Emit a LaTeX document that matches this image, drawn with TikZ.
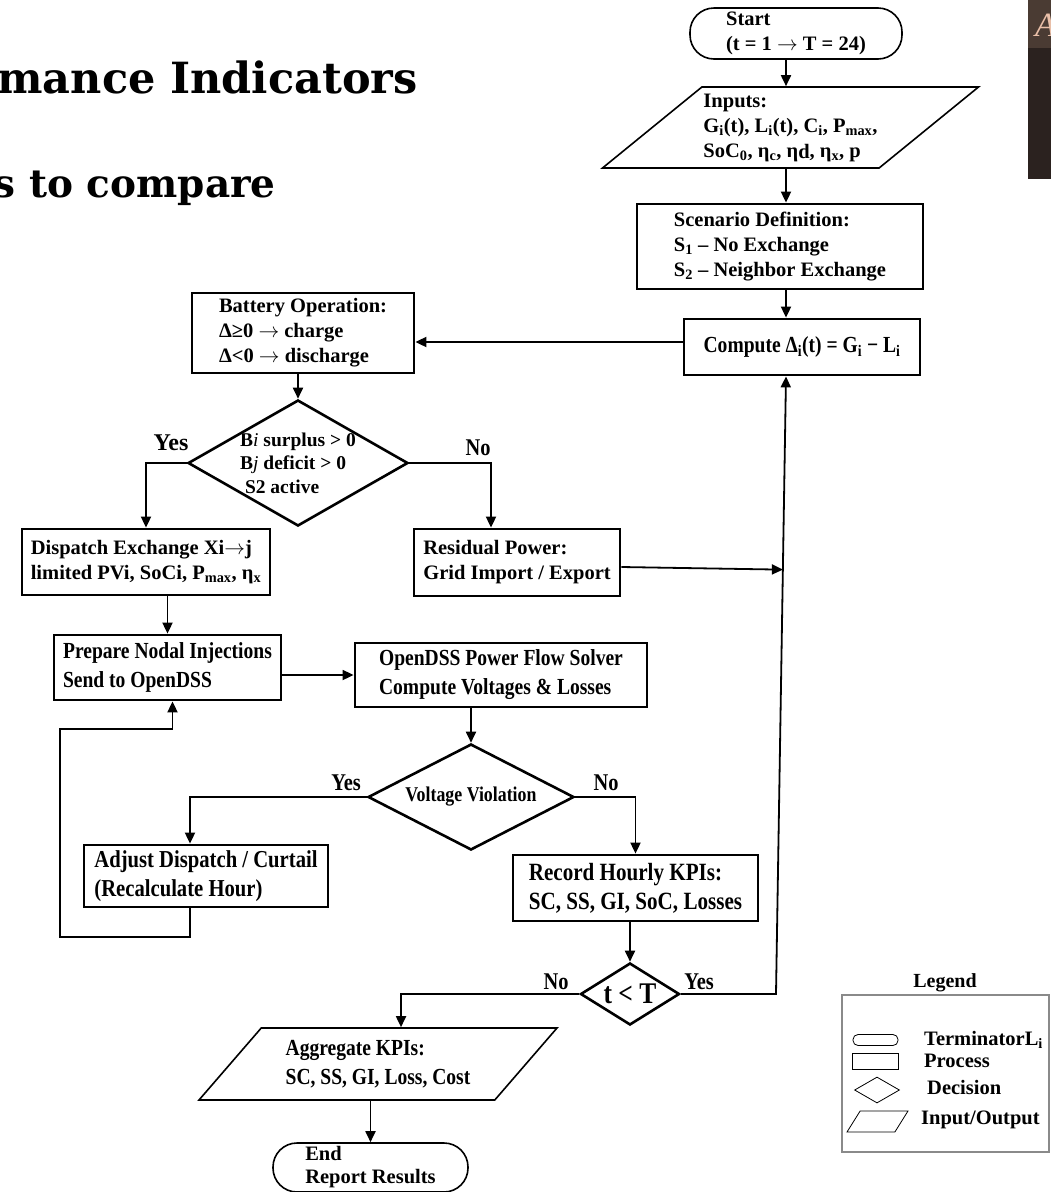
\documentclass[tikz,border=0pt]{standalone}
\usepackage{fontspec}
\setmainfont{Liberation Serif}
\newfontfamily\narrowfont[FakeStretch=0.85]{Liberation Serif}
\newfontfamily\headfont{DejaVu Serif}
\usetikzlibrary{shapes.geometric, arrows.meta, calc}

\definecolor{slidetop}{HTML}{4A3B33}
\definecolor{slidebody}{HTML}{2B221F}
\definecolor{slideglyph}{HTML}{E9BFA8}
\definecolor{legendgray}{HTML}{8A8A8A}

\begin{document}
\begin{tikzpicture}[
        x=1pt, y=-1pt,
        font=\bfseries\fontsize{20.5}{25}\selectfont,
        box/.style={draw, line width=2.8pt, inner sep=0pt, align=left},
        term/.style={draw, line width=1.6pt, rounded corners=24pt, inner sep=0pt, align=left},
        io/.style={draw, line width=1.6pt, trapezium, trapezium stretches body, inner sep=0pt, align=left},
        dec/.style={draw, line width=2.6pt, diamond, inner sep=0pt, align=left},
        narrow/.style={font=\narrowfont\bfseries\fontsize{23}{29}\selectfont},
        lab/.style={font=\narrowfont\bfseries\fontsize{24}{24}\selectfont},
        leg/.style={font=\bfseries\fontsize{20.5}{20.5}\selectfont, anchor=west, inner sep=0pt},
        key/.style={draw, line width=0.8pt, inner sep=0pt},
        arr/.style={line width=1.8pt, -{Triangle[length=11pt, width=10pt]}}
    ]

    \useasboundingbox (0,0) rectangle (1051,1192);

    % slide behind the chart
    \node[font=\headfont\bfseries\fontsize{43}{43}\selectfont, anchor=base east, inner sep=0pt] (head1) at (418,93) {mance Indicators};
    \node[font=\headfont\bfseries\fontsize{39}{39}\selectfont, anchor=base east, inner sep=0pt] (head2) at (276,197) {s to compare};
    \fill[slidetop] (1028,0) rectangle (1051,48);
    \fill[slidebody] (1028,48) rectangle (1051,179);
    \begin{scope}
        \clip (1028,0) rectangle (1051,48);
        \node[slideglyph, font=\mdseries\itshape\fontsize{34}{34}\selectfont, anchor=base west, inner sep=0pt] (glyph) at (1035,36) {A};
    \end{scope}

    % nodes
    \node[term, minimum width=212pt, minimum height=51pt] (start) at (796,33.5) {Start\\(t = 1 $\rightarrow$ T = 24)};
    \node[io, minimum width=376pt, minimum height=81pt, trapezium left angle=34.3, trapezium right angle=145.7] (inputs) at (790.5,127.5)
        {Inputs:\\G\textsubscript{i}(t), L\textsubscript{i}(t), C\textsubscript{i}, P\textsubscript{max},\\SoC\textsubscript{0}, η\textsubscript{c}, η\raisebox{-1.5pt}{d}, η\textsubscript{x}, p};
    \node[box, minimum width=286pt, minimum height=85pt] (scen) at (780,246.5) {Scenario Definition:\\S\textsubscript{1} – No Exchange\\S\textsubscript{2} – Neighbor Exchange};
    \node[box, narrow, minimum width=236pt, minimum height=56pt] (comp) at (802,347) {Compute Δ\textsubscript{i}(t) = G\textsubscript{i} − L\textsubscript{i}};

    \node[box, minimum width=222pt, minimum height=80pt] (bat) at (303,333) {Battery Operation:\\Δ≥0 $\rightarrow$ charge\\Δ<0 $\rightarrow$ discharge};
    \node[dec, aspect=1.75, inner sep=-3pt, minimum width=220pt, minimum height=126pt, font=\bfseries\fontsize{19.5}{23.5}\selectfont] (share) at (298,463)
        {B\textmd{\textit{i}} surplus > 0\\B\textmd{\textit{j}} deficit > 0\\\ S2 active};
    \node[box, minimum width=248pt, minimum height=66pt] (disp) at (146,562) {Dispatch Exchange Xi$\rightarrow$j\\limited PVi, SoCi, P\textsubscript{max}, η\textsubscript{x}};
    \node[box, minimum width=206pt, minimum height=67pt] (resid) at (517,562.5) {Residual Power:\\Grid Import / Export};

    \node[box, narrow, minimum width=227pt, minimum height=65pt] (prep) at (167.5,667.5) {Prepare Nodal Injections\\Send to OpenDSS};
    \node[box, narrow, minimum width=292pt, minimum height=64pt] (solver) at (501,675) {OpenDSS Power Flow Solver\\Compute Voltages \& Losses};
    \node[dec, aspect=1.94, minimum width=206pt, minimum height=106pt, font=\narrowfont\bfseries\fontsize{21}{21}\selectfont] (volt) at (471,797) {Voltage Violation};
    \node[box, narrow, minimum width=244pt, minimum height=62pt, font=\narrowfont\bfseries\fontsize{24.3}{29}\selectfont] (adjust) at (206,876) {Adjust Dispatch / Curtail\\(Recalculate Hour)};
    \node[box, narrow, minimum width=245pt, minimum height=66pt, font=\narrowfont\bfseries\fontsize{24.8}{29}\selectfont] (record) at (635.5,888) {Record Hourly KPIs:\\SC, SS, GI, SoC, Losses};

    \node[dec, aspect=1.6, minimum width=99pt, minimum height=62pt, font=\narrowfont\bfseries\fontsize{30}{30}\selectfont] (hour) at (630,994) {t < T};
    \node[io, narrow, minimum width=358pt, minimum height=72pt, trapezium left angle=37.5, trapezium right angle=142.5] (agg) at (378,1064) {Aggregate KPIs:\\SC, SS, GI, Loss, Cost};
    \node[term, minimum width=195pt, minimum height=49pt, font=\bfseries\fontsize{20.5}{23}\selectfont] (stop) at (370.5,1167.5) {End\\Report Results};

    % coordinates
    \coordinate (col)    at (786,0);
    \coordinate (nodown) at (491,0);
    \coordinate (back)   at (776,994);
    \coordinate (fbbot)  at (60,937);
    \coordinate (fbtop)  at (60,729);
    \coordinate (compin) at (comp.south -| col);
    \coordinate (resout) at ([yshift=-4.5pt]resid.east);

    % edges
    \draw[arr] (start.south -| col) -- (inputs.north -| col);
    \draw[arr] (inputs.south -| col) -- (scen.north -| col);
    \draw[arr] (scen.south -| col) -- (comp.north -| col);
    \draw[arr] ([yshift=5pt]comp.west) -- ([yshift=5pt]comp.west -| bat.east);
    \draw[arr] (bat.south -| share.north) -- (share.north);
    \draw[arr] (share.west) -| (disp.north);
    \draw[arr] (share.east) -| (resid.north -| nodown);
    \draw[arr] (disp.south -| prep.north) -- (prep.north);
    \draw[arr] (resout) -- ($(back)!(resout)!(compin)$);
    \draw[arr] (prep.east |- solver.west) -- (solver.west);
    \draw[arr] (solver.south -| volt.north) -- (volt.north);
    \draw[arr] (volt.west) -| ([xshift=-16pt]adjust.north);
    \draw[arr] (volt.east) -| (record.north);
    \draw[arr] ([xshift=-16pt]adjust.south) |- (fbbot) -- (fbtop) -| ([xshift=5pt]prep.south);
    \draw[arr] (record.south -| hour.north) -- (hour.north);
    \draw[arr] (hour.west) -| ([xshift=23pt]agg.north);
    \draw[arr] (hour.east) -- (back) -- (compin);
    \draw[arr] (agg.south -| stop.north) -- (stop.north);

    % labels
    \node[lab, font=\bfseries\fontsize{24}{24}\selectfont] (yes1) at (171,443) {Yes};
    \node[lab] (no1)  at (478,448) {No};
    \node[lab] (yes2) at (346,783) {Yes};
    \node[lab] (no2)  at (606,783) {No};
    \node[lab] (no3)  at (556,982) {No};
    \node[lab] (yes3) at (699,982) {Yes};

    % legend
    \node[font=\bfseries\fontsize{20}{20}\selectfont] (legtitle) at (945,983) {Legend};
    \draw[legendgray, line width=2.5pt] (842,995) rectangle (1049,1152);
    \node[key, rounded corners=5pt, minimum width=45pt, minimum height=11pt] (kterm) at (875.5,1040) {};
    \node[key, minimum width=46pt, minimum height=16pt] (kproc) at (875,1061) {};
    \node[key, diamond, minimum width=45pt, minimum height=26pt] (kdec) at (877,1090) {};
    \node[key, trapezium, trapezium stretches body, inner xsep=0pt, inner ysep=10.5pt,
          trapezium left angle=58, trapezium right angle=122, minimum width=61pt] (kio) at (877.5,1121.5) {};
    \node[leg] (ktermtxt) at (924,1040) {TerminatorL\textsubscript{i}};
    \node[leg] (kproctxt) at (924,1061) {Process};
    \node[leg] (kdectxt)  at (927,1087) {Decision};
    \node[leg] (kiotxt)   at (921,1120) {Input/Output};
\end{tikzpicture}
\end{document}
